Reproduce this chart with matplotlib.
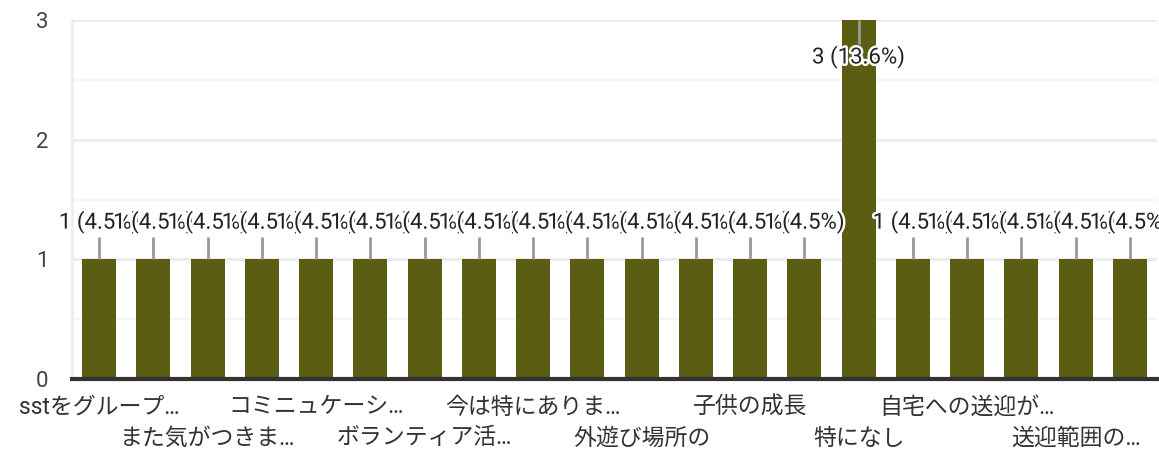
import matplotlib
matplotlib.use("Agg")
import matplotlib.pyplot as plt
import matplotlib.patheffects as pe
import numpy as np

plt.rcParams['font.family'] = ['Roboto', 'Noto Sans CJK JP', 'DejaVu Sans']

values = [1, 1, 1, 1, 1, 1, 1, 1, 1, 1, 1, 1, 1, 1, 3, 1, 1, 1, 1, 1]
tick_labels = ["sstをグループ…", "", "また気がつきま…", "", "コミニュケーシ…", "",
               "ボランティア活…", "", "今は特にありま…", "", "外遊び場所の", "",
               "子供の成長", "", "特になし", "", "自宅への送迎が…", "",
               "送迎範囲の…", ""]
y_ticks = [0, 1, 2, 3]

W, H = 1159, 449
fig = plt.figure(figsize=(W / 100, H / 100), dpi=100)
ax = fig.add_axes([72 / W, 1 - 379 / H, (1157 - 72) / W, (379 - 20) / H])

bar_color = "#5a5d12"
x = np.arange(len(values))
ax.bar(x, values, width=0.63, color=bar_color, zorder=2)
ax.set_xlim(-0.5, len(values) - 0.5)
ax.set_ylim(0, 3)

# grid
ax.set_yticks(y_ticks)
ax.set_yticks([0.5, 1.5, 2.5], minor=True)
ax.grid(axis='y', which='major', color='#ebebeb', linewidth=2, zorder=0)
ax.grid(axis='y', which='minor', color='#f4f4f4', linewidth=1.5, zorder=0)
ax.tick_params(axis='y', which='both', length=0, pad=17, labelsize=16, labelcolor='#444444')
ax.tick_params(axis='x', length=0)
ax.set_xticks([])
for s in ['top', 'right']:
    ax.spines[s].set_visible(False)
ax.spines['left'].set_color('#eeeeee')
ax.spines['left'].set_linewidth(2)
ax.spines['bottom'].set_color('#333333')
ax.spines['bottom'].set_linewidth(3)
ax.spines['bottom'].set_zorder(3)

# x labels in two rows
for i, lab in enumerate(tick_labels):
    if not lab:
        continue
    off = -28 if (i % 4 == 0) else -59
    ax.annotate(lab, xy=(i, 0), xycoords=('data', 'axes fraction'),
                xytext=(0, off), textcoords='offset pixels',
                ha='center', va='center', fontsize=16.5, color='#333333',
                annotation_clip=False)

# value annotations with stems
total = sum(values)
ymax = max(values)
for i, v in enumerate(values):
    txt = f"{v} ({v / total * 100:.1f}%)"
    if v == ymax:
        y_text = v - 0.31
        stem = (v, v - 0.2)
    else:
        y_text = v + 0.31
        stem = (v, v + 0.19)
    ax.plot([i, i], stem, color='#999999', linewidth=2, zorder=4, solid_capstyle='butt')
    ax.text(i, y_text, txt, ha='center', va='center', fontsize=16, color='#222222',
            zorder=5 + i, clip_on=False,
            path_effects=[pe.withStroke(linewidth=3.5, foreground='white')])

fig.savefig("out.png", dpi=100)
